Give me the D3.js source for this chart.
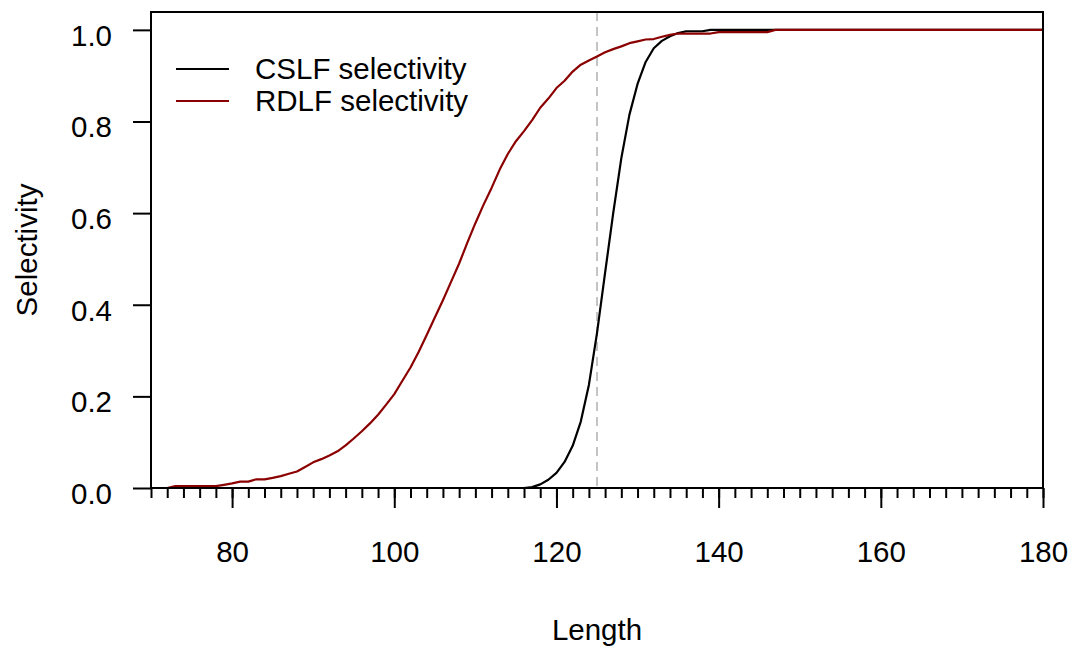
<!DOCTYPE html>
<html>
<head>
<meta charset="utf-8">
<script src="https://cdn.jsdelivr.net/npm/d3@7"></script>
<style>
  body { margin: 0; background: #fff; }
  text { font-family: "Liberation Sans", Arial, Helvetica, sans-serif; fill: #000; }
</style>
</head>
<body>
<div class="chart"></div>
<script>
// selectivity curves
var cslfLength = [70, 115, 116, 117, 118, 119, 120, 121, 122, 123, 124, 125, 126, 127, 128,
    129, 130, 131, 132, 133, 134, 135, 136, 137, 138, 139, 180];
var cslfSel = [0, 0, 0, 0.002, 0.008, 0.018, 0.033, 0.057, 0.092, 0.145, 0.225, 0.338, 0.47, 0.6, 0.72,
    0.815, 0.882, 0.93, 0.96, 0.976, 0.986, 0.993, 0.997, 0.997, 0.997, 1, 1];

var rdlfLength = [72, 73, 74, 75, 76, 77, 78, 79, 80, 81, 82, 83, 84, 85, 86, 87, 88, 89, 90,
    91, 92, 93, 94, 95, 96, 97, 98, 99, 100, 101, 102, 103, 104, 105, 106, 107, 108, 109, 110,
    111, 112, 113, 114, 115, 116, 117, 118, 119, 120, 121, 122, 123, 124, 125, 126, 127, 128,
    129, 130, 131, 132, 133, 134, 135, 136, 137, 138, 139, 140, 141, 142, 143, 144, 145, 146,
    147, 180];
var rdlfSel = [0, 0.004, 0.004, 0.004, 0.004, 0.004, 0.004, 0.007, 0.01, 0.014, 0.014, 0.019, 0.019, 0.022, 0.026, 0.031, 0.036, 0.046, 0.056,
    0.063, 0.071, 0.08, 0.093, 0.108, 0.124, 0.141, 0.16, 0.182, 0.205, 0.234, 0.263, 0.297, 0.334, 0.372, 0.41, 0.45, 0.49, 0.535, 0.578,
    0.618, 0.655, 0.695, 0.729, 0.757, 0.779, 0.803, 0.83, 0.85, 0.873, 0.889, 0.909, 0.924, 0.933, 0.942, 0.951, 0.958, 0.964,
    0.971, 0.975, 0.979, 0.98, 0.985, 0.989, 0.992, 0.992, 0.992, 0.992, 0.992, 0.995, 0.995, 0.995, 0.995, 0.995, 0.995, 0.995,
    1, 1];

var xTickLabels = [80, 100, 120, 140, 160, 180];
var yTickLabels = [0, 0.2, 0.4, 0.6, 0.8, 1.0];
var refLength = 125;
var seriesNames = ["CSLF selectivity", "RDLF selectivity"];
var seriesColors = ["#000000", "#8b0000"];

var svgWidth = 1077;
var svgHeight = 651;
var fontSize = "29.5px";

var margin = {
    top: 12,
    right: 34,
    bottom: 163,
    left: 151
};

var width = svgWidth - margin.left - margin.right;
var height = svgHeight - margin.top - margin.bottom;

var svg = d3
    .select(".chart")
    .append("svg")
    .attr("width", svgWidth)
    .attr("height", svgHeight);

var chartGroup = svg.append("g")
    .attr("transform", `translate(${margin.left}, ${margin.top})`);

var xLinearScale = d3.scaleLinear()
    .domain([70, 180])
    .range([0, width]);

var yLinearScale = d3.scaleLinear()
    .domain([0, 1.039])
    .range([height, 0]);

// minor ticks every 2 units, no labels
var minorAxis = d3.axisBottom(xLinearScale)
    .tickValues(d3.range(70, 181, 2))
    .tickSize(10)
    .tickFormat("");

var bottomAxis = d3.axisBottom(xLinearScale)
    .tickValues(xTickLabels)
    .tickSize(20)
    .tickPadding(33)
    .tickFormat(d3.format("d"));

var leftAxis = d3.axisLeft(yLinearScale)
    .tickValues(yTickLabels)
    .tickSize(18)
    .tickPadding(21)
    .tickFormat(d3.format(".1f"));

chartGroup.append("g")
    .attr("transform", `translate(0, ${height})`)
    .call(minorAxis);

chartGroup.append("g")
    .attr("transform", `translate(0, ${height})`)
    .call(bottomAxis);

var yAxis = chartGroup.append("g")
    .call(leftAxis);

chartGroup.selectAll(".domain").remove();
chartGroup.selectAll(".tick line")
    .attr("stroke", "#000")
    .attr("stroke-width", 2);
chartGroup.selectAll(".tick text")
    .style("font-size", fontSize)
    .attr("fill", "#000");
yAxis.selectAll(".tick text")
    .attr("dy", "0.52em");

// reference length
chartGroup.append("line")
    .attr("x1", xLinearScale(refLength))
    .attr("x2", xLinearScale(refLength))
    .attr("y1", 0)
    .attr("y2", height)
    .attr("stroke", "#c4c4c4")
    .attr("stroke-width", 2)
    .attr("stroke-dasharray", "9,6");

var line = d3.line()
    .x(d => xLinearScale(d[0]))
    .y(d => yLinearScale(d[1]));

var series = [
    d3.zip(cslfLength, cslfSel),
    d3.zip(rdlfLength, rdlfSel)
];

chartGroup.selectAll(".curve")
    .data(series)
    .enter()
    .append("path")
    .classed("curve", true)
    .attr("d", line)
    .attr("fill", "none")
    .attr("stroke", (d, i) => seriesColors[i])
    .attr("stroke-width", 2.2)
    .attr("stroke-linejoin", "round");

// box around the plot
chartGroup.append("rect")
    .attr("x", 0)
    .attr("y", 0)
    .attr("width", width)
    .attr("height", height)
    .attr("fill", "none")
    .attr("stroke", "#000")
    .attr("stroke-width", 2);

// legend
var legend = chartGroup.append("g")
    .attr("transform", "translate(25, 57)");

seriesNames.forEach(function(name, i) {
    legend.append("line")
        .attr("x1", 0)
        .attr("x2", 53)
        .attr("y1", i * 32)
        .attr("y2", i * 32)
        .attr("stroke", seriesColors[i])
        .attr("stroke-width", 2);
    legend.append("text")
        .attr("x", 79)
        .attr("y", i * 32)
        .attr("dy", "0.35em")
        .style("font-size", fontSize)
        .text(name);
});

// axis titles
svg.append("text")
    .attr("x", margin.left + width / 2)
    .attr("y", 640)
    .attr("text-anchor", "middle")
    .style("font-size", fontSize)
    .text("Length");

svg.append("text")
    .attr("transform", "rotate(-90)")
    .attr("x", -(margin.top + height / 2))
    .attr("y", 37)
    .attr("text-anchor", "middle")
    .style("font-size", fontSize)
    .text("Selectivity");
</script>
</body>
</html>
